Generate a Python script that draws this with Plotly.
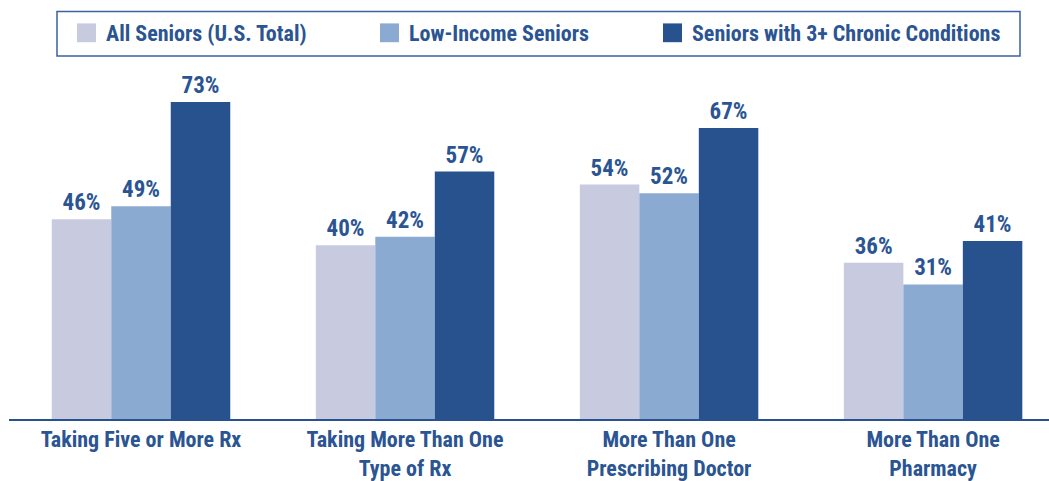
import plotly.graph_objects as go

categories = [
    "Taking Five or More Rx",
    "Taking More Than One<br>Type of Rx",
    "More Than One<br>Prescribing Doctor",
    "More Than One<br>Pharmacy",
]
series_names = [
    "All Seniors (U.S. Total)",
    "Low-Income Seniors",
    "Seniors with 3+ Chronic Conditions",
]
all_seniors = [46, 40, 54, 36]
low_income = [49, 42, 52, 31]
chronic = [73, 57, 67, 41]

colors = ["#C8CADF", "#8AAAD2", "#27528E"]
text_color = "#2B5592"
font_family = "Roboto Condensed, Roboto, sans-serif"

W, H = 1049, 481
ML, MT, MB = 9, 60, 58
PW, PH = W - ML, H - MT - MB

fig = go.Figure()
for name, vals, col in zip(series_names, [all_seniors, low_income, chronic], colors):
    fig.add_trace(go.Bar(
        name=name, x=categories, y=vals, marker_color=col, marker_line_width=0,
        texttemplate="<b>%{y}%</b>", textposition="outside", cliponaxis=False,
        textfont=dict(family=font_family, size=23, color=text_color),
        showlegend=False,
    ))


# legend drawn as a framed row of swatches and labels, positioned in pixels
def px_x(x):
    return (x - ML) / PW


def px_y(y):
    return (H - MB - y) / PH


shapes = [dict(type="rect", xref="paper", yref="paper",
               x0=px_x(57), x1=px_x(1020), y0=px_y(56), y1=px_y(11),
               line=dict(color="#3A62A0", width=1.5), fillcolor="white")]
annotations = []
legend_x = [77, 380, 663]
for lx, name, col in zip(legend_x, series_names, colors):
    shapes.append(dict(type="rect", xref="paper", yref="paper",
                       x0=px_x(lx), x1=px_x(lx + 19), y0=px_y(42), y1=px_y(23),
                       line=dict(width=0), fillcolor=col))
    annotations.append(dict(xref="paper", yref="paper", x=px_x(lx + 27), y=px_y(33),
                            xanchor="left", yanchor="middle", showarrow=False,
                            text="<b>" + name + "</b>",
                            font=dict(family=font_family, size=22, color=text_color)))

fig.update_layout(
    width=W, height=H,
    margin=dict(l=ML, r=0, t=MT, b=MB),
    paper_bgcolor="white", plot_bgcolor="white",
    barmode="group", bargap=0.324, bargroupgap=0,
    shapes=shapes, annotations=annotations,
    font=dict(family=font_family, color=text_color),
)
fig.update_xaxes(
    range=[-0.5, 3.439], showline=True, linecolor="#27528E", linewidth=2,
    ticks="", showgrid=False, zeroline=False,
    tickfont=dict(family=font_family, size=22, color=text_color),
    tickmode="array", tickvals=categories,
    ticktext=["<b>" + c.replace("<br>", "</b><br><b>") + "</b>" for c in categories],
)
fig.update_yaxes(range=[0, PH / 4.39], visible=False, showgrid=False, zeroline=False)

fig.write_html("out.html")
